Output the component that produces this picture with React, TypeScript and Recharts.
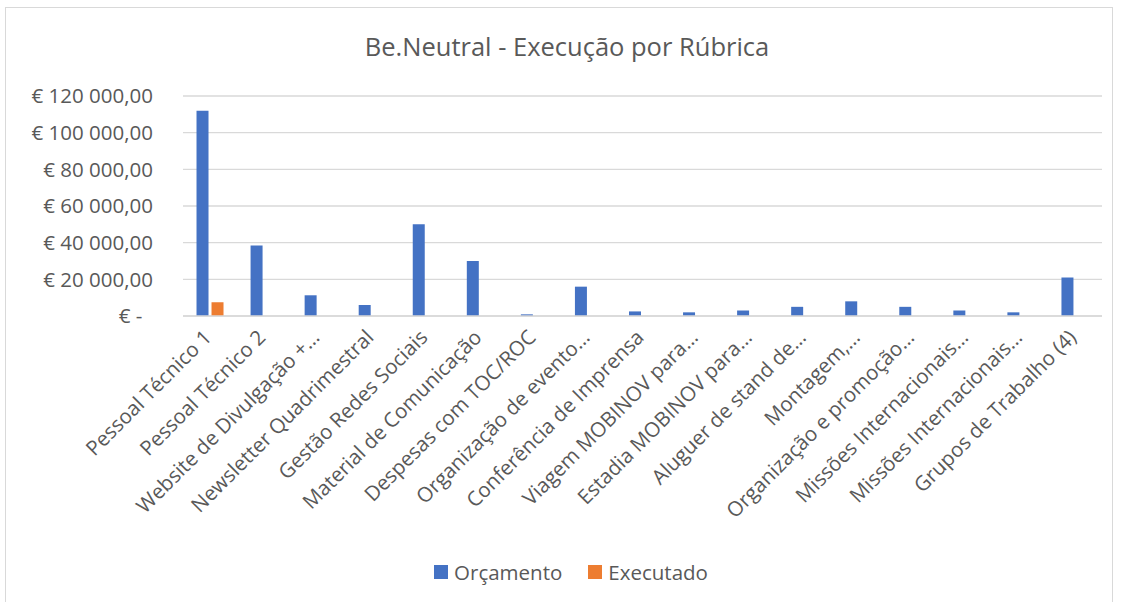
import { Bar, BarChart, CartesianGrid, Legend, XAxis, YAxis } from "recharts";

const rubricas = [
	"Pessoal Técnico 1",
	"Pessoal Técnico 2",
	"Website de Divulgação +…",
	"Newsletter Quadrimestral",
	"Gestão Redes Sociais",
	"Material de Comunicação",
	"Despesas com TOC/ROC",
	"Organização de evento…",
	"Conferência de Imprensa",
	"Viagem MOBINOV para…",
	"Estadia MOBINOV para…",
	"Aluguer de stand de…",
	"Montagem,…",
	"Organização e promoção…",
	"Missões Internacionais…",
	"Missões Internacionais…",
	"Grupos de Trabalho (4)",
];

const orcamento = [
	112000, 38500, 11300, 6000, 50000, 30000, 900, 16000, 2500, 2000, 3000,
	5000, 8000, 5000, 3000, 2000, 21000,
];

const executado = [7500, 0, 0, 0, 0, 0, 0, 0, 0, 0, 0, 0, 0, 0, 0, 0, 0];

const yTicks = [0, 20000, 40000, 60000, 80000, 100000, 120000];

const series = [
	{ key: "orcamento", nome: "Orçamento", cor: "#4472C4" },
	{ key: "executado", nome: "Executado", cor: "#ED7D31" },
];

const dados = rubricas.map((nome, i) => ({
	nome,
	key: i,
	orcamento: orcamento[i],
	executado: executado[i],
}));

const FONT = "'Open Sans', sans-serif";
const TEXT = "#595959";

function formatEuro(v: number) {
	if (v === 0) return "€ -\u00a0\u00a0";
	const s = String(v).replace(/\B(?=(\d{3})+(?!\d))/g, " ");
	return "€ " + s + ",00";
}

const TickX = (props: any) => {
	const { x, y, payload } = props;
	const ax = x - 3;
	const ay = y + 9;
	return (
		<text
			x={ax}
			y={ay}
			transform={`rotate(-45, ${ax}, ${ay})`}
			textAnchor='end'
			dominantBaseline='central'
			fill={TEXT}
			fontSize={20.5}
			fontFamily={FONT}
		>
			{rubricas[payload.value]}
		</text>
	);
};

const Legenda = () => (
	<div
		style={{
			display: "flex",
			justifyContent: "center",
			alignItems: "center",
			gap: 26,
			height: 30,
			paddingLeft: 34,
			fontSize: 20.5,
			fontFamily: FONT,
			color: TEXT,
		}}
	>
		{series.map((s) => (
			<div key={s.key} style={{ display: "flex", alignItems: "center" }}>
				<span
					style={{
						width: 14,
						height: 14,
						background: s.cor,
						marginRight: 6,
						display: "inline-block",
					}}
				/>
				{s.nome}
			</div>
		))}
	</div>
);

const App = () => {
	return (
		<div
			style={{
				position: "absolute",
				left: 5,
				top: 7,
				width: 1106,
				height: 600,
				border: "1px solid #d9d9d9",
				background: "#fff",
				fontFamily: FONT,
			}}
		>
			<div
				style={{
					position: "absolute",
					top: 21,
					left: 16,
					right: 0,
					textAlign: "center",
					fontSize: 25.5,
					color: TEXT,
				}}
			>
				Be.Neutral - Execução por Rúbrica
			</div>
			<BarChart
				width={1104}
				height={598}
				data={dados}
				margin={{ top: 88, right: 8, bottom: 19, left: 0 }}
				barCategoryGap='25%'
				barGap={3}
			>
				<CartesianGrid vertical={false} stroke='#d9d9d9' strokeWidth={1.3} />
				<XAxis
					dataKey='key'
					interval={0}
					height={241}
					tickLine={false}
					axisLine={{ stroke: "#d9d9d9", strokeWidth: 1.3 }}
					tick={<TickX />}
				/>
				<YAxis
					width={177}
					domain={[0, 120000]}
					ticks={yTicks}
					tickFormatter={formatEuro}
					axisLine={false}
					tickLine={false}
					tickSize={0}
					tickMargin={30}
					tick={{ fill: TEXT, fontSize: 20.5, fontFamily: FONT }}
				/>
				<Legend verticalAlign='bottom' height={30} content={<Legenda />} />
				{series.map((s) => (
					<Bar
						key={s.key}
						dataKey={s.key}
						name={s.nome}
						fill={s.cor}
						isAnimationActive={false}
					/>
				))}
			</BarChart>
		</div>
	);
};

export default App;
